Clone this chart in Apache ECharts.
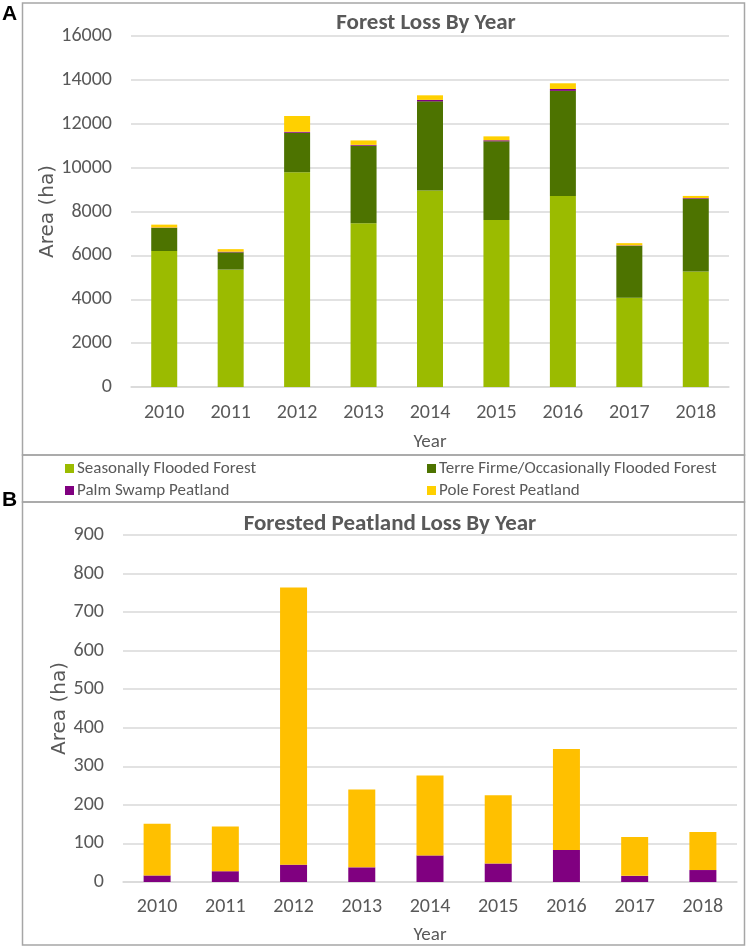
<!DOCTYPE html>
<html>
<head>
    <meta charset="utf-8">
    <title>Forest Loss</title>
    <script src="https://cdn.jsdelivr.net/npm/echarts@6/dist/echarts.min.js"></script>
    <style>
        html, body { margin: 0; padding: 0; background: #fff; }
    </style>
</head>
<body>
    <div id="main" style="width: 747px;height:948px;"></div>
    <script type="text/javascript">
    var myChart = echarts.init(document.getElementById('main'));

    // data
    var years = ['2010', '2011', '2012', '2013', '2014', '2015', '2016', '2017', '2018'];
    var seasonallyFlooded = [6200, 5350, 9790, 7460, 8960, 7610, 8710, 4070, 5270];
    var terreFirme = [1050, 790, 1800, 3540, 4060, 3590, 4790, 2370, 3310];
    var palmSwamp = [17, 28, 45, 38, 69, 48, 83, 16, 31];
    var poleForest = [134, 116, 719, 202, 207, 177, 262, 101, 99];

    var font = "Carlito, 'Liberation Sans Narrow', Lato, sans-serif";
    var grey = '#595959';
    var boxColor = '#a6a6a6';

    function catAxis(gridIndex, nameGap, labelMargin) {
        return {
            type: 'category',
            gridIndex: gridIndex,
            data: years,
            name: 'Year',
            nameLocation: 'middle',
            nameGap: nameGap,
            nameMoveOverlap: false,
            nameTextStyle: { color: grey, fontSize: 19, fontFamily: font },
            axisTick: { show: false },
            axisLine: { lineStyle: { color: '#d9d9d9', width: 1.5 } },
            axisLabel: { color: grey, fontSize: 20, fontFamily: font, margin: labelMargin }
        };
    }

    function valAxis(gridIndex, max, interval, nameGap) {
        return {
            type: 'value',
            gridIndex: gridIndex,
            min: 0,
            max: max,
            interval: interval,
            name: 'Area (ha)',
            nameLocation: 'middle',
            nameGap: nameGap,
            nameMoveOverlap: false,
            nameTextStyle: { color: grey, fontSize: 20, fontFamily: "'DejaVu Sans', sans-serif" },
            axisLine: { show: false },
            axisTick: { show: false },
            axisLabel: {
                color: grey, fontSize: 20, fontFamily: font, margin: 19,
                formatter: function (v) { return String(v); }
            },
            splitLine: { lineStyle: { color: '#d9d9d9', width: 1.5 } }
        };
    }

    function bar(name, data, color, idx, stack, width) {
        return {
            name: name,
            type: 'bar',
            stack: stack,
            xAxisIndex: idx,
            yAxisIndex: idx,
            barWidth: width,
            data: data,
            itemStyle: { color: color },
            emphasis: { disabled: true }
        };
    }

    option = {
        animation: false,
        title: [{
            text: 'Forest Loss By Year',
            left: 421,
            top: 7,
            textAlign: 'center',
            textStyle: { color: grey, fontSize: 23, fontWeight: 'bold', fontFamily: font }
        }, {
            text: 'Forested Peatland Loss By Year',
            left: 385,
            top: 508,
            textAlign: 'center',
            textStyle: { color: grey, fontSize: 23, fontWeight: 'bold', fontFamily: font }
        }],
        legend: [{
            orient: 'vertical',
            left: 60,
            top: 455,
            icon: 'rect',
            itemWidth: 9,
            itemHeight: 9,
            itemGap: 5,
            data: ['Seasonally Flooded Forest', 'Palm Swamp Peatland'],
            textStyle: { color: grey, fontSize: 17, fontFamily: font, padding: [0, 0, 0, -2] }
        }, {
            orient: 'vertical',
            left: 422,
            top: 455,
            icon: 'rect',
            itemWidth: 9,
            itemHeight: 9,
            itemGap: 5,
            data: ['Terre Firme/Occasionally Flooded Forest', 'Pole Forest Peatland'],
            textStyle: { color: grey, fontSize: 17, fontFamily: font, padding: [0, 0, 0, -2] }
        }],
        grid: [
            { left: 131, right: 18, top: 36, bottom: 561 },
            { left: 123, right: 10, top: 535, bottom: 66 }
        ],
        xAxis: [catAxis(0, 46, 16), catAxis(1, 44, 15)],
        yAxis: [valAxis(0, 16000, 2000, 73), valAxis(1, 900, 100, 53)],
        series: [
            bar('Seasonally Flooded Forest', seasonallyFlooded, '#9bbb00', 0, 'a', 26),
            bar('Terre Firme/Occasionally Flooded Forest', terreFirme, '#4d7300', 0, 'a', 26),
            bar('Palm Swamp Peatland', palmSwamp, '#800080', 0, 'a', 26),
            bar('Pole Forest Peatland', poleForest, '#ffd000', 0, 'a', 26),
            bar('Palm Swamp Peatland', palmSwamp, '#800080', 1, 'b', 27),
            bar('Pole Forest Peatland', poleForest, '#ffc000', 1, 'b', 27)
        ],
        graphic: [
            { type: 'rect', shape: { x: 22.5, y: 3, width: 722, height: 452 }, style: { fill: 'none', stroke: boxColor, lineWidth: 1.5 }, silent: true },
            { type: 'rect', shape: { x: 22.5, y: 455, width: 722, height: 47 }, style: { fill: 'none', stroke: boxColor, lineWidth: 1.5 }, silent: true },
            { type: 'rect', shape: { x: 22.5, y: 502, width: 722, height: 443 }, style: { fill: 'none', stroke: boxColor, lineWidth: 1.5 }, silent: true },
            { type: 'text', left: 2, top: 4, style: { text: 'A', fill: '#000', font: "bold 21px 'Liberation Sans', Arial, sans-serif" } },
            { type: 'text', left: 2, top: 490, style: { text: 'B', fill: '#000', font: "bold 21px 'Liberation Sans', Arial, sans-serif" } }
        ]
    };

    myChart.setOption(option);
    </script>
</body>
</html>
